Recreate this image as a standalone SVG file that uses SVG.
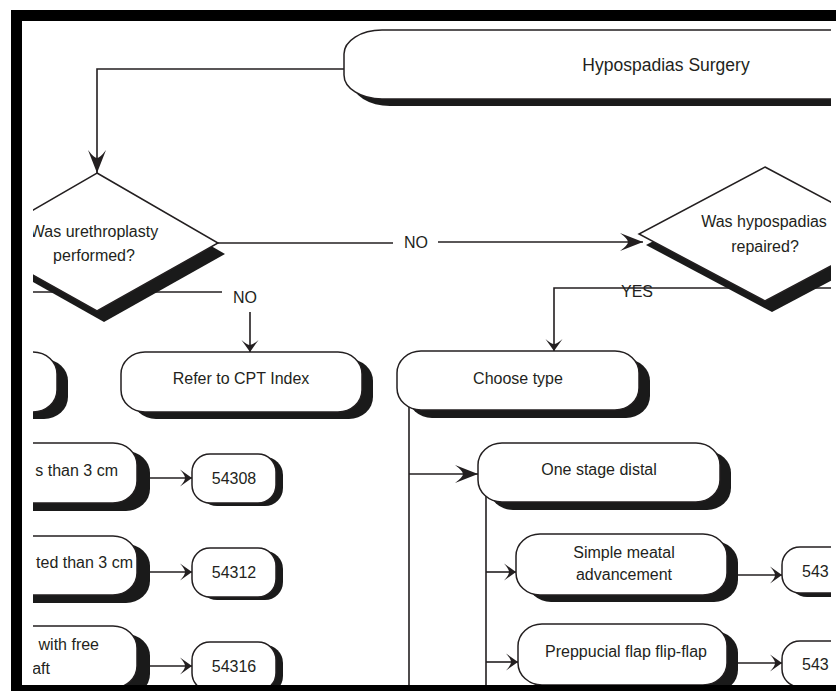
<svg xmlns="http://www.w3.org/2000/svg" width="836" height="691" viewBox="0 0 836 691">
<style>
.bx{fill:#fff;stroke:#231f20;stroke-width:1.5}
.sh{fill:#1a1a1a}
.ln{fill:none;stroke:#231f20;stroke-width:1.6}
.t{font-family:"Liberation Sans",Arial,sans-serif;font-size:16px;fill:#231f20;text-anchor:middle}
.te{font-family:"Liberation Sans",Arial,sans-serif;font-size:16px;fill:#231f20;text-anchor:end}
.ts{font-family:"Liberation Sans",Arial,sans-serif;font-size:16px;fill:#231f20}
</style>
<defs>
<clipPath id="cp"><rect x="33" y="21" width="798" height="664"/></clipPath>
<marker id="big" viewBox="0 0 24 20" refX="24" refY="10" markerWidth="24" markerHeight="20" markerUnits="userSpaceOnUse" orient="auto">
<path d="M24,10 L1,1 Q9,7 9,10 Q9,13 1,19 Z" fill="#231f20"/>
</marker>
<marker id="sm" viewBox="0 0 13 18" refX="13" refY="9" markerWidth="13" markerHeight="18" markerUnits="userSpaceOnUse" orient="auto">
<path d="M13,9 L1,0.5 Q6,6 6,9 Q6,12 1,17.5 Z" fill="#231f20"/>
</marker>
</defs>
<rect x="0" y="0" width="836" height="691" fill="#fff"/>
<g clip-path="url(#cp)">
<g id="connectors">
<polyline class="ln" points="344,69 97,69 97,173" marker-end="url(#big)"/>
<line class="ln" x1="218" y1="243" x2="393" y2="243"/>
<line class="ln" x1="438" y1="242" x2="643" y2="242" marker-end="url(#big)"/>
<line class="ln" x1="33" y1="292" x2="222" y2="292"/>
<line class="ln" x1="250" y1="312" x2="250" y2="352" marker-end="url(#sm)"/>
<polyline class="ln" points="831,288 554,288 554,351" marker-end="url(#sm)"/>
<line class="ln" x1="409" y1="400" x2="409" y2="690"/>
<line class="ln" x1="409" y1="474" x2="478" y2="474" marker-end="url(#big)"/>
<line class="ln" x1="486" y1="495" x2="486" y2="690"/>
<line class="ln" x1="486" y1="572" x2="516" y2="572" marker-end="url(#sm)"/>
<line class="ln" x1="486" y1="662" x2="518" y2="662" marker-end="url(#sm)"/>
<line class="ln" x1="735" y1="575" x2="782" y2="575" marker-end="url(#sm)"/>
<line class="ln" x1="735" y1="663" x2="782" y2="663" marker-end="url(#sm)"/>
<line class="ln" x1="145" y1="478" x2="192" y2="478" marker-end="url(#sm)"/>
<line class="ln" x1="145" y1="572" x2="192" y2="572" marker-end="url(#sm)"/>
<line class="ln" x1="145" y1="666" x2="192" y2="666" marker-end="url(#sm)"/>
<text class="t" x="416" y="248">NO</text>
<text class="t" x="245" y="303">NO</text>
<text class="t" x="637" y="297">YES</text>
</g>
<g id="title">
<rect class="sh" x="352" y="37" width="560" height="69" rx="38" ry="24"/>
<rect class="bx" x="344" y="30" width="560" height="69" rx="38" ry="24"/>
<text class="t" x="666" y="71" style="font-size:17.5px">Hypospadias Surgery</text>
</g>
<g id="urethroplasty">
<polygon class="sh" points="104,184 225,254 104,322 -17,254"/>
<polygon class="bx" points="97,173 218,243 97,311 -24,243"/>
<text class="t" x="94" y="237">Was urethroplasty</text>
<text class="t" x="94" y="261">performed?</text>
</g>
<g id="repaired">
<polygon class="sh" points="772,178 898,245 772,312 646,245"/>
<polygon class="bx" points="765,167 891,234 765,301 639,234"/>
<text class="t" x="764" y="227">Was hypospadias</text>
<text class="t" x="765" y="252">repaired?</text>
</g>
<g id="leftA">
<rect class="sh" x="-139" y="359" width="207" height="60" rx="24" ry="22"/>
<rect class="bx" x="-150" y="352" width="207" height="60" rx="24" ry="22"/>
</g>
<g id="refer">
<rect class="sh" x="132" y="359" width="241" height="60" rx="24" ry="22"/>
<rect class="bx" x="121" y="352" width="241" height="60" rx="24" ry="22"/>
<text class="t" x="241" y="384">Refer to CPT Index</text>
</g>
<g id="choose">
<rect class="sh" x="408" y="359" width="242" height="59" rx="24" ry="22"/>
<rect class="bx" x="397" y="351" width="242" height="59" rx="24" ry="22"/>
<text class="t" x="518" y="384">Choose type</text>
</g>
<g id="onestage">
<rect class="sh" x="489" y="451" width="242" height="59" rx="24" ry="22"/>
<rect class="bx" x="478" y="443" width="242" height="59" rx="24" ry="22"/>
<text class="t" x="599" y="475">One stage distal</text>
</g>
<g id="simple">
<rect class="sh" x="527" y="541" width="211" height="61" rx="24" ry="22"/>
<rect class="bx" x="516" y="534" width="211" height="61" rx="24" ry="22"/>
<text class="t" x="624" y="558">Simple meatal</text>
<text class="t" x="624" y="580">advancement</text>
</g>
<g id="flipflap">
<rect class="sh" x="529" y="631" width="209" height="61" rx="24" ry="22"/>
<rect class="bx" x="518" y="624" width="209" height="61" rx="24" ry="22"/>
<text class="t" x="626" y="657">Preppucial flap flip-flap</text>
</g>
<g id="c54322">
<rect class="sh" x="789" y="551" width="100" height="46" rx="18" ry="18"/>
<rect class="bx" x="782" y="547" width="100" height="46" rx="18" ry="18"/>
<text class="ts" x="802" y="577">543</text>
</g>
<g id="c54324">
<rect class="sh" x="789" y="645" width="100" height="46" rx="18" ry="18"/>
<rect class="bx" x="782" y="641" width="100" height="46" rx="18" ry="18"/>
<text class="ts" x="802" y="670">543</text>
</g>
<g id="leftB">
<rect class="sh" x="-137" y="451" width="287" height="60" rx="24" ry="22"/>
<rect class="bx" x="-150" y="443" width="287" height="60" rx="24" ry="22"/>
<text class="te" x="118" y="476">s than 3 cm</text>
</g>
<g id="leftC">
<rect class="sh" x="-137" y="544" width="287" height="59" rx="24" ry="22"/>
<rect class="bx" x="-150" y="536" width="287" height="59" rx="24" ry="22"/>
<text class="te" x="133" y="568">ted than 3 cm</text>
</g>
<g id="leftD">
<rect class="sh" x="-137" y="634" width="287" height="62" rx="24" ry="22"/>
<rect class="bx" x="-150" y="626" width="287" height="62" rx="24" ry="22"/>
<text class="te" x="99" y="650">with free</text>
<text class="te" x="50" y="674">aft</text>
</g>
<g id="c54308">
<rect class="sh" x="199" y="457" width="84" height="49" rx="18" ry="18"/>
<rect class="bx" x="192" y="454" width="84" height="49" rx="18" ry="18"/>
<text class="t" x="234" y="484">54308</text>
</g>
<g id="c54312">
<rect class="sh" x="199" y="551" width="84" height="49" rx="18" ry="18"/>
<rect class="bx" x="192" y="548" width="84" height="49" rx="18" ry="18"/>
<text class="t" x="234" y="578">54312</text>
</g>
<g id="c54316">
<rect class="sh" x="199" y="645" width="84" height="49" rx="18" ry="18"/>
<rect class="bx" x="192" y="642" width="84" height="49" rx="18" ry="18"/>
<text class="t" x="234" y="672">54316</text>
</g>
</g>
<g id="frame" fill="#000">
<rect x="11" y="10" width="825" height="11"/>
<rect x="11" y="10" width="11" height="681"/>
<rect x="11" y="685" width="825" height="6"/>
</g>
</svg>
